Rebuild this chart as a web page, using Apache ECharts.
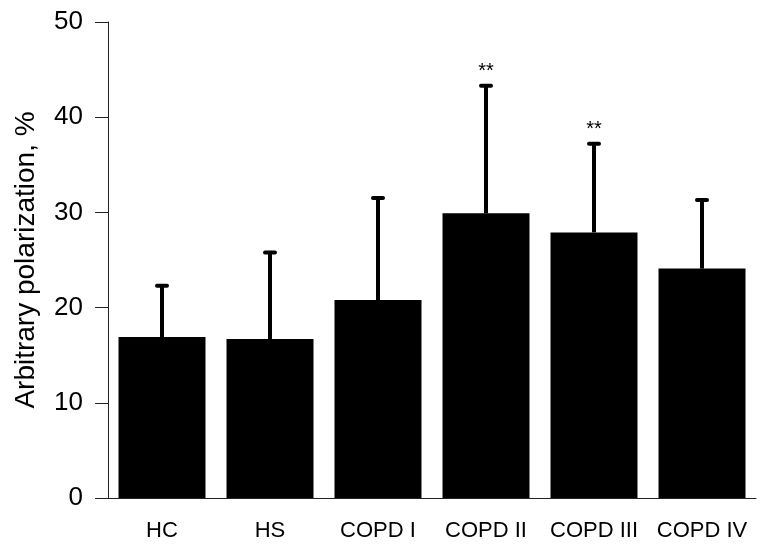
<!DOCTYPE html>
<html>
<head>
<meta charset="utf-8">
<script src="https://cdn.jsdelivr.net/npm/echarts@6/dist/echarts.min.js"></script>
<style>html,body{margin:0;padding:0;background:#fff;}#c{width:764px;height:555px;}</style>
</head>
<body>
<div id="c"></div>
<script>
var categories = ['HC', 'HS', 'COPD I', 'COPD II', 'COPD III', 'COPD IV'];
var means = [16.9, 16.7, 20.8, 29.9, 27.9, 24.1];
var upper = [22.3, 25.8, 31.5, 43.3, 37.2, 31.3];
var marks = ['', '', '', '**', '**', ''];
var yTicks = [0, 10, 20, 30, 40, 50];

var chart = echarts.init(document.getElementById('c'));
var errData = categories.map(function (c, i) { return [i, means[i], upper[i], marks[i]]; });
var font = 'Liberation Sans, Arial, Helvetica, sans-serif';
chart.setOption({
  animation: false,
  grid: { left: 108, right: 8, top: 22, bottom: 57 },
  xAxis: {
    type: 'category',
    data: categories,
    axisLine: { lineStyle: { color: '#222', width: 1 } },
    axisTick: { alignWithLabel: true, length: 12, lineStyle: { color: '#222' } },
    axisLabel: { color: '#000', fontSize: 22, fontFamily: font, margin: 22, interval: 0 }
  },
  yAxis: {
    type: 'value',
    min: 0, max: 50, interval: 10,
    name: 'Arbitrary polarization, %',
    nameLocation: 'middle',
    nameGap: 68,
    nameTextStyle: { color: '#000', fontSize: 28, fontFamily: font },
    axisLine: { show: true, lineStyle: { color: '#222', width: 1 } },
    axisTick: { show: true, length: 13, lineStyle: { color: '#222' } },
    splitLine: { show: false },
    axisLabel: { color: '#000', fontSize: 26, fontFamily: font, margin: 25,
      formatter: function (v) { return yTicks.indexOf(v) >= 0 ? String(v) : ''; } }
  },
  series: [
    {
      type: 'bar',
      data: means,
      barWidth: 87,
      itemStyle: { color: '#000' },
      z: 2
    },
    {
      type: 'custom',
      data: errData,
      z: 3,
      renderItem: function (params, api) {
        var x = api.value(0);
        var base = api.coord([x, api.value(1)]);
        var top = api.coord([x, api.value(2)]);
        var children = [
          { type: 'line', shape: { x1: base[0], y1: base[1], x2: top[0], y2: top[1] },
            style: { stroke: '#000', lineWidth: 4 } },
          { type: 'line', shape: { x1: top[0] - 5, y1: top[1], x2: top[0] + 5, y2: top[1] },
            style: { stroke: '#000', lineWidth: 4, lineCap: 'round' } }
        ];
        var m = api.value(3);
        if (m) {
          children.push({ type: 'text', style: { text: m, x: top[0], y: top[1] - 4,
            textAlign: 'center', textVerticalAlign: 'bottom', fill: '#000', fontSize: 20, fontFamily: font } });
        }
        return { type: 'group', children: children };
      }
    }
  ]
});
</script>
</body>
</html>
